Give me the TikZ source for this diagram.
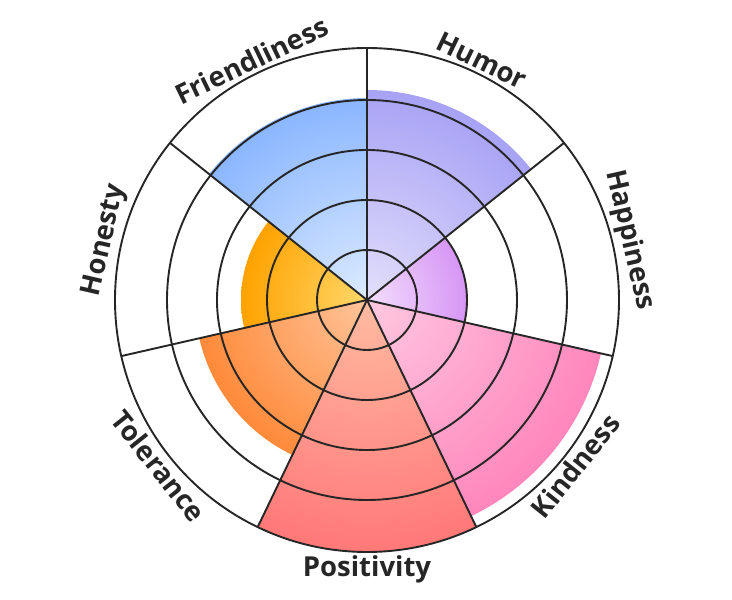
\documentclass[tikz,border=0pt]{standalone}
\usepackage{fontspec}
\setmainfont{Open Sans}
\usetikzlibrary{calc}
\begin{document}
\begin{tikzpicture}[x=1pt,y=1pt,
  ring/.style={draw=black!85,line width=1.9pt},
  lbl/.style={font=\fontsize{27.5}{32}\selectfont\bfseries,text=black!85,inner sep=1.5pt}]
\useasboundingbox (0,0) rectangle (732,600);
\coordinate (c) at (367,300);
\def\sector#1#2#3#4#5{%
  \begin{scope}
  \clip (c) -- ++(#1:#3) arc[start angle=#1,end angle=#2,radius=#3] -- cycle;
  \shade[inner color=#4,outer color=#5] (c) circle[radius=#3];
  \end{scope}}
\definecolor{hu1}{HTML}{E2DFFB}\definecolor{hu2}{HTML}{A8A2F5}
\definecolor{ha1}{HTML}{F3DEFD}\definecolor{ha2}{HTML}{D696F5}
\definecolor{ki1}{HTML}{FFC8E0}\definecolor{ki2}{HTML}{FF86BC}
\definecolor{po1}{HTML}{FFBBA2}\definecolor{po2}{HTML}{FF7878}
\definecolor{to1}{HTML}{FFC49A}\definecolor{to2}{HTML}{FF8A3A}
\definecolor{ho1}{HTML}{FFD86A}\definecolor{ho2}{HTML}{FFA200}
\definecolor{fr1}{HTML}{DCEBFF}\definecolor{fr2}{HTML}{8AB6FF}
\sector{38.57}{90}{210}{hu1}{hu2}
\sector{-12.86}{38.57}{100}{ha1}{ha2}
\sector{-64.29}{-12.86}{240}{ki1}{ki2}
\sector{-115.71}{-64.29}{252}{po1}{po2}
\sector{-167.14}{-115.71}{172}{to1}{to2}
\sector{141.43}{192.86}{126}{ho1}{ho2}
\sector{90}{141.43}{202}{fr1}{fr2}
\foreach \r in {50,100,150,200,252} \draw[ring] (c) circle[radius=\r];
\foreach \a in {90,38.57,-12.86,-64.29,-115.71,-167.14,141.43}
  \draw[ring] (c) -- ++(\a:252);
\node[lbl,anchor=south,rotate=25.71] (fr) at ($(c)+(115.71:254)$) {Friendliness};
\node[lbl,anchor=south,rotate=-25.71] (hu) at ($(c)+(64.29:254)$) {Humor};
\node[lbl,anchor=south,rotate=-77.14] (ha) at ($(c)+(12.86:254)$) {Happiness};
\node[lbl,anchor=north,rotate=51.43] (ki) at ($(c)+(-38.57:254)$) {Kindness};
\node[lbl,anchor=north,rotate=0] (po) at ($(c)+(-90:254)$) {Positivity};
\node[lbl,anchor=north,rotate=-51.43] (to) at ($(c)+(-141.43:254)$) {Tolerance};
\node[lbl,anchor=south,rotate=77.14] (ho) at ($(c)+(167.14:254)$) {Honesty};
\end{tikzpicture}
\end{document}
